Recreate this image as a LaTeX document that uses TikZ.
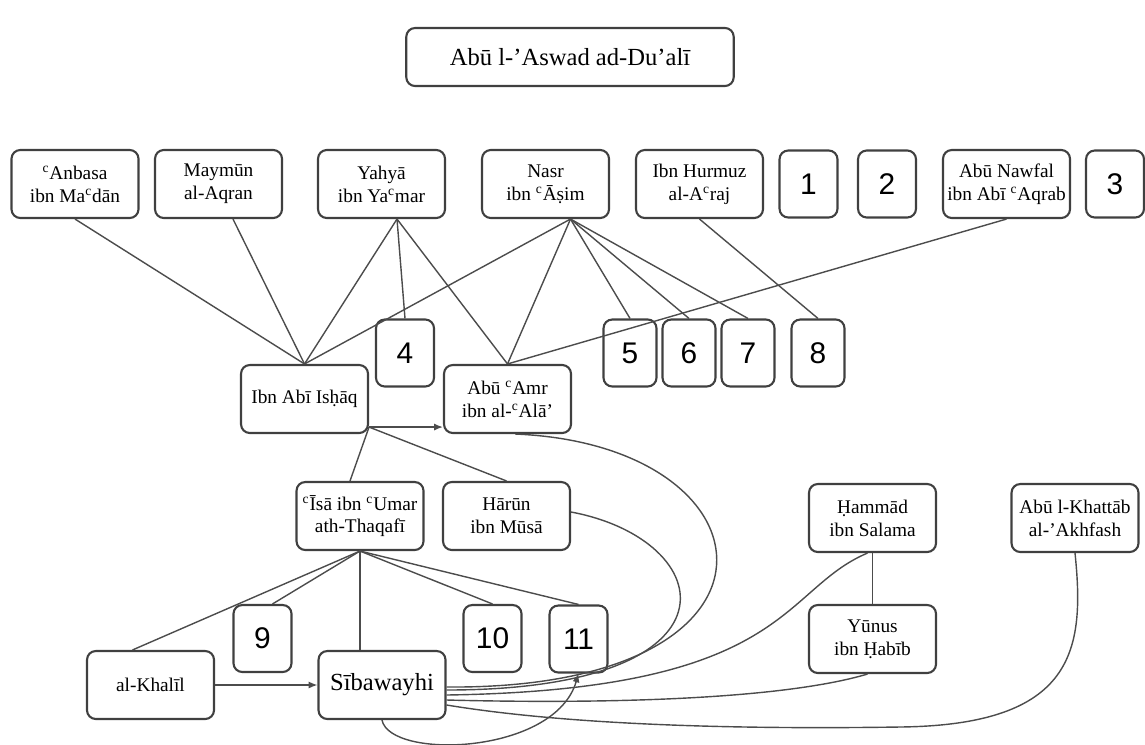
\documentclass[tikz,border=0pt]{standalone}
\usepackage{fontspec}
\setmainfont{Liberation Serif}
\newfontfamily\numfont{Liberation Sans}
\newcommand{\ayn}{\textsuperscript{c}}
\usetikzlibrary{arrows.meta}

\begin{document}
\begin{tikzpicture}[x=0.02cm,y=-0.02cm,
	scholar/.style={draw=black!75,line width=1.2pt,rounded corners=5pt,align=center,font=\fontsize{11}{13}\selectfont,minimum width=2.54cm,minimum height=1.36cm,inner sep=1pt},
	numbox/.style={draw=black!75,line width=1.2pt,rounded corners=5pt,font=\numfont\fontsize{17}{17}\selectfont,minimum width=1.16cm,minimum height=1.34cm,inner sep=0pt},
	link/.style={draw=black!70,line width=0.8pt},
	>={Latex[length=5pt,width=4pt]}]
	\useasboundingbox (0,0) rectangle (1145,744);

	% top
	\node[scholar,minimum width=6.55cm,minimum height=1.16cm,font=\fontsize{14}{16}\selectfont] (aswad) at (570,57) {Abū l-'Aswad ad-Du'alī};

	% first generation
	\node[scholar] (anbasa) at (75,184) {\ayn Anbasa\\ibn Ma\ayn dān};
	\node[scholar] (maymun) at (218.5,184) {Maymūn\\al-Aqran};
	\node[scholar] (yahya) at (381.5,184) {Yahyā\\ibn Ya\ayn mar};
	\node[scholar] (nasr) at (545.5,184) {Nasr\\ibn \ayn Āṣim};
	\node[scholar] (hurmuz) at (699.5,184) {Ibn Hurmuz\\al-A\ayn raj};
	\node[numbox] (n1) at (808.5,184) {1};
	\node[numbox] (n2) at (887,184) {2};
	\node[scholar] (nawfal) at (1006.5,184) {Abū Nawfal\\ibn Abī \ayn Aqrab};
	\node[numbox] (n3) at (1115,184) {3};

	% second generation
	\node[scholar] (ibnabi) at (304.5,399) {Ibn Abī Isḥāq};
	\node[scholar] (abuamr) at (507.5,399) {Abū \ayn Amr\\ibn al-\ayn Alā'};
	\node[numbox] (n4) at (405,353) {4};
	\node[numbox,minimum width=1.06cm] (n5) at (630,353) {5};
	\node[numbox,minimum width=1.06cm] (n6) at (689,353) {6};
	\node[numbox,minimum width=1.06cm] (n7) at (748,353) {7};
	\node[numbox,minimum width=1.06cm] (n8) at (818,353) {8};

	% third generation
	\node[scholar] (isa) at (360,516) {\ayn Īsā ibn \ayn Umar\\ath-Thaqafī};
	\node[scholar] (harun) at (506.5,516) {Hārūn\\ibn Mūsā};
	\node[scholar] (hammad) at (872.5,518) {Ḥammād\\ibn Salama};
	\node[scholar] (akhfash) at (1075,518) {Abū l-Khattāb\\al-'Akhfash};
	\node[numbox] (n9) at (262.5,638.5) {9};
	\node[numbox] (n10) at (492.5,638.5) {10};
	\node[numbox] (n11) at (578.5,639) {11};
	\node[scholar] (yunus) at (872.5,639) {Yūnus\\ibn Ḥabīb};
	\node[scholar] (khalil) at (150.5,685) {al-Khalīl};
	\node[scholar,font=\fontsize{14}{16}\selectfont] (sibawayhi) at (382,685) {Sībawayhi};

	% links from the first generation
	\draw[link] (anbasa.south) -- (ibnabi.north);
	\draw[link] ([xshift=0.29cm]maymun.south) -- (ibnabi.north);
	\coordinate (yahyafoot) at ([xshift=0.31cm]yahya.south);
	\foreach \t in {ibnabi,n4,abuamr} \draw[link] (yahyafoot) -- (\t.north);
	\coordinate (nasrfoot) at ([xshift=0.5cm]nasr.south);
	\foreach \t in {ibnabi,abuamr,n5,n6,n7} \draw[link] (nasrfoot) -- (\t.north);
	\draw[link] (hurmuz.south) -- (n8.north);
	\draw[link] (nawfal.south) -- (abuamr.north);

	% links from Ibn Abi Ishaq
	\coordinate (ibnabicorner) at ([yshift=0.14cm]ibnabi.south east);
	\draw[link,->] (ibnabicorner) -- (ibnabicorner -| abuamr.west);
	\draw[link] (ibnabicorner) -- ([xshift=-0.2cm]isa.north);
	\draw[link] (ibnabicorner) -- (harun.north);

	% links from Isa
	\draw[link] (isa.south) -- ([xshift=-0.36cm]khalil.north);
	\draw[link] (isa.south) -- ([xshift=0.2cm]n9.north);
	\draw[link,line width=1.1pt] (isa.south) -- (isa.south |- sibawayhi.north);
	\draw[link] (isa.south) -- (n10.north);
	\draw[link] (isa.south) -- (n11.north);
	\draw[link,->] (khalil.east) -- (sibawayhi.west);
	\draw[link] (hammad.south) -- (yunus.north);

	% curves into Sibawayhi
	\draw[link] ([xshift=0.16cm]abuamr.south) .. controls (780,445) and (810,690) .. ([yshift=-0.04cm]sibawayhi.east);
	\draw[link] ([yshift=0.08cm]harun.east) .. controls (720,540) and (750,690) .. ([yshift=-0.1cm]sibawayhi.east);
	\draw[link] ([xshift=-0.1cm]hammad.south) .. controls (780,590) and (790,690) .. ([yshift=-0.2cm]sibawayhi.east);
	\draw[link] ([xshift=-0.1cm]yunus.south) .. controls (780,700) and (600,704) .. ([yshift=-0.3cm]sibawayhi.east);
	\draw[link] (akhfash.south) .. controls (1085,650) and (1075,725) .. (900,727) .. controls (700,730) and (550,722) .. ([yshift=-0.4cm]sibawayhi.east);
	\draw[link,->] (sibawayhi.south) .. controls (390,760) and (555,755) .. (n11.south);
\end{tikzpicture}
\end{document}
